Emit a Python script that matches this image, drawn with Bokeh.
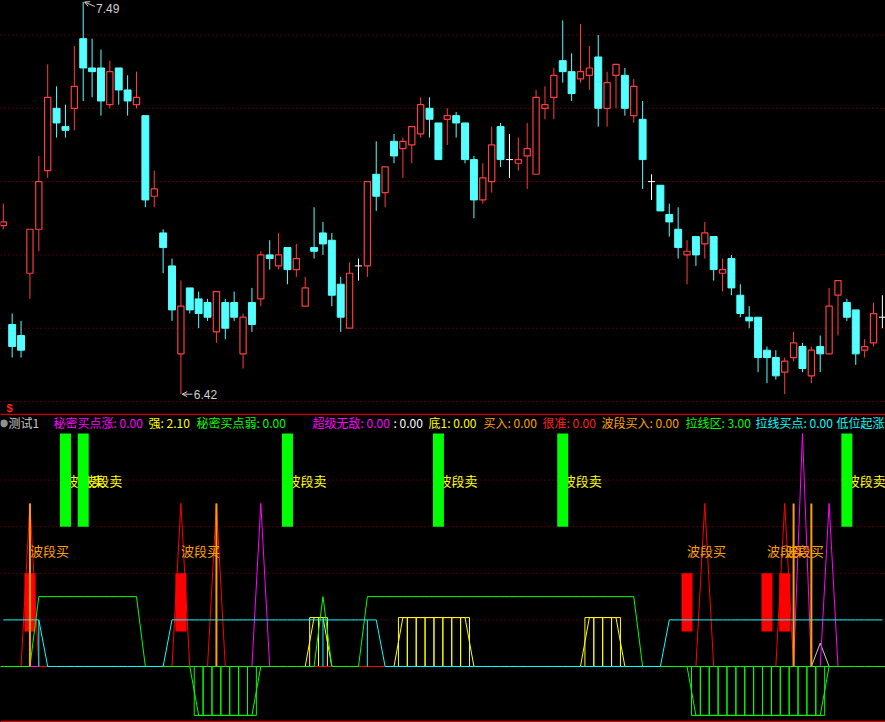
import numpy as np
from bokeh.plotting import figure
from bokeh.layouts import column
from bokeh.models import (Range1d, Span, Label, Arrow, OpenHead, ColumnDataSource,
                          GlobalInlineStyleSheet)
from bokeh.core.properties import value
from bokeh.embed import file_html
from bokeh.resources import INLINE

# ---------------- price data (100 daily bars) ----------------
opens = [6.88, 6.61, 6.58, 6.75, 6.87, 7.03, 7.20, 7.15, 7.20, 7.39,
         7.31, 7.31, 7.21, 7.31, 7.25, 7.21, 7.18, 6.96, 6.86, 6.77,
         6.53, 6.71, 6.68, 6.67, 6.59, 6.67, 6.67, 6.53, 6.67, 6.68,
         6.80, 6.77, 6.82, 6.76, 6.66, 6.82, 6.86, 6.84, 6.72, 6.60,
         6.77, 6.77, 7.02, 6.97, 7.11, 7.09, 7.10, 7.13, 7.20, 7.16,
         7.17, 7.18, 7.16, 7.06, 6.95, 7.00, 7.15, 7.06, 7.05, 7.07,
         7.02, 7.20, 7.23, 7.33, 7.30, 7.28, 7.29, 7.34, 7.20, 7.29,
         7.29, 7.18, 7.17, 7.00, 6.99, 6.91, 6.87, 6.80, 6.85, 6.83,
         6.85, 6.75, 6.79, 6.69, 6.63, 6.63, 6.54, 6.52, 6.48, 6.52,
         6.55, 6.47, 6.55, 6.53, 6.69, 6.67, 6.65, 6.54, 6.56, 6.63]
highs = [6.94, 6.64, 6.62, 6.87, 7.07, 7.32, 7.26, 7.21, 7.37, 7.49,
         7.39, 7.36, 7.33, 7.31, 7.29, 7.30, 7.18, 7.03, 6.87, 6.79,
         6.73, 6.71, 6.70, 6.68, 6.70, 6.68, 6.70, 6.64, 6.71, 6.81,
         6.84, 6.86, 6.82, 6.83, 6.74, 6.93, 6.89, 6.86, 6.74, 6.78,
         6.79, 7.00, 7.11, 7.04, 7.13, 7.12, 7.15, 7.23, 7.23, 7.16,
         7.20, 7.19, 7.16, 7.07, 7.05, 7.15, 7.16, 7.13, 7.12, 7.16,
         7.25, 7.26, 7.31, 7.44, 7.35, 7.43, 7.37, 7.40, 7.30, 7.32,
         7.31, 7.28, 7.22, 7.02, 6.99, 6.94, 6.93, 6.84, 6.85, 6.89,
         6.85, 6.79, 6.80, 6.72, 6.66, 6.63, 6.55, 6.54, 6.52, 6.59,
         6.56, 6.55, 6.58, 6.71, 6.73, 6.68, 6.65, 6.57, 6.67, 6.69]
lows = [6.87, 6.52, 6.52, 6.68, 6.81, 7.01, 7.12, 7.12, 7.14, 7.22,
        7.23, 7.18, 7.20, 7.21, 7.18, 7.20, 6.93, 6.93, 6.75, 6.62,
        6.42, 6.64, 6.60, 6.62, 6.56, 6.57, 6.62, 6.49, 6.59, 6.66,
        6.76, 6.76, 6.72, 6.74, 6.66, 6.79, 6.80, 6.66, 6.59, 6.60,
        6.73, 6.74, 6.92, 6.93, 7.05, 7.01, 7.05, 7.12, 7.12, 7.06,
        7.10, 7.12, 7.05, 6.90, 6.94, 6.97, 7.04, 7.01, 7.03, 6.98,
        7.02, 7.17, 7.17, 7.27, 7.22, 7.27, 7.25, 7.15, 7.15, 7.20,
        7.18, 7.16, 6.98, 6.95, 6.92, 6.85, 6.79, 6.72, 6.77, 6.79,
        6.73, 6.70, 6.69, 6.63, 6.60, 6.48, 6.45, 6.46, 6.42, 6.51,
        6.48, 6.45, 6.48, 6.53, 6.58, 6.62, 6.50, 6.52, 6.55, 6.60]
closes = [6.89, 6.55, 6.54, 6.87, 7.00, 7.23, 7.16, 7.14, 7.26, 7.31,
          7.30, 7.22, 7.30, 7.25, 7.22, 7.23, 6.95, 6.98, 6.82, 6.65,
          6.66, 6.65, 6.64, 6.63, 6.70, 6.60, 6.63, 6.63, 6.61, 6.80,
          6.79, 6.80, 6.76, 6.79, 6.71, 6.81, 6.83, 6.69, 6.63, 6.75,
          6.77, 7.00, 6.96, 7.04, 7.07, 7.11, 7.15, 7.21, 7.17, 7.06,
          7.18, 7.16, 7.06, 6.95, 7.01, 7.10, 7.06, 7.06, 7.06, 7.09,
          7.23, 7.21, 7.29, 7.30, 7.24, 7.30, 7.31, 7.20, 7.27, 7.32,
          7.20, 7.26, 7.06, 7.00, 6.92, 6.89, 6.82, 6.81, 6.80, 6.86,
          6.76, 6.76, 6.71, 6.64, 6.62, 6.52, 6.52, 6.47, 6.51, 6.56,
          6.49, 6.54, 6.53, 6.66, 6.73, 6.63, 6.53, 6.55, 6.64, 6.63]
price_grid = [6.4, 6.6, 6.8, 7.0, 7.2, 7.4]

# ---------------- indicator data ----------------
qiang_idx = [35, 36, 45, 46, 47, 48, 49, 50, 51, 52, 66, 67, 68, 69]      # 强 (yellow)
qiang_level = 2.1
ruo_idx = [22, 23, 24, 25, 26, 27, 28,
           78, 79, 80, 81, 82, 83, 84, 85, 86, 87, 88, 89, 90, 91, 92]     # 秘密买点弱 (green, below 0)
ruo_level = -2.1
laxian_idx = [4, 5, 6, 7, 8, 9, 10, 11, 12, 13, 14, 15, 36] + list(range(41, 72))  # 拉线区 (green)
laxian_level = 3.0
laxian_buy_idx = [0, 1, 2, 3, 4] + list(range(19, 43)) + list(range(75, 100))    # 拉线买点 (cyan)
laxian_buy_level = 2.0
henzhun_idx = [3, 20, 24, 79, 88]          # 很准 (red spikes)
henzhun_level = 7.0
chaoji_idx = [29, 90, 93]                  # 超级无敌 (magenta spikes)
chaoji_vals = [7.0, 10.0, 7.0]
di1_idx = [92]                             # small grey spike
di1_vals = [1.0]
buy_stick_idx = [3, 24, 89, 91]            # 买入 (orange sticks)
buy_stick_top = 7.0
low_stick_idx = [4, 36, 41]                # 低位起涨 (cyan sticks)
low_stick_top = 2.0
wave_buy_idx = [3, 20, 77, 86, 88]         # 波段买
wave_buy_range = (1.5, 4.0)
wave_buy_text_y = 5.0
wave_sell_idx = [7, 9, 32, 49, 63, 95]     # 波段卖
wave_sell_range = (6.0, 10.0)
wave_sell_text_y = 8.0
ind_grid = [2, 4, 6, 8]

legend_items = [
    (8, "测试1", "#C8C8C8"),
    (53, "秘密买点涨: 0.00", "#FF00FF"),
    (148, "强: 2.10", "#FFFF00"),
    (196, "秘密买点弱: 0.00", "#00FF00"),
    (312, "超级无敌: 0.00", "#FF00FF"),
    (393, ": 0.00", "#FFFFFF"),
    (428, "底1: 0.00", "#FFFF00"),
    (483, "买入: 0.00", "#FFA000"),
    (542, "很准: 0.00", "#FF2020"),
    (601, "波段买入: 0.00", "#FFA000"),
    (685, "拉线区: 3.00", "#00FF00"),
    (755, "拉线买点: 0.00", "#00FFFF"),
    (836, "低位起涨", "#00FFFF"),
]

# ---------------- colours ----------------
RED = "#FF3C3C"
CYAN = "#54FFFF"
GRID = "#A00000"
CJK = "Noto Sans CJK SC"

N = len(opens)
idx = np.arange(N)
o = np.array(opens); h = np.array(highs); l = np.array(lows); c = np.array(closes)

xr = Range1d(-0.315, 99.35)

# ================= top: candlesticks =================
top = figure(width=885, height=415, x_range=xr, y_range=Range1d(6.3673, 7.4941),
             output_backend="svg", toolbar_location=None, title=None,
             x_axis_location=None, y_axis_location=None, min_border=0,
             min_border_left=0, min_border_right=0, min_border_top=0, min_border_bottom=2)
top.background_fill_color = "black"
top.border_fill_color = "#D00000"
top.outline_line_color = None
top.grid.visible = False

for g in price_grid:
    top.add_layout(Span(location=g, dimension="width", line_color=GRID,
                        line_dash="1 3", line_width=1, level="underlay"))

up = c > o
dn = c < o
dj = c == o
body_top = np.maximum(o, c)
body_bot = np.minimum(o, c)
col = np.where(up, RED, np.where(dn, CYAN, "#FFFFFF"))

wick = ColumnDataSource(dict(x=idx, h=h, l=l, bt=body_top, bb=body_bot, col=col))
top.segment(x0="x", y0="h", x1="x", y1="bt", color="col", line_width=1, source=wick)
top.segment(x0="x", y0="bb", x1="x", y1="l", color="col", line_width=1, source=wick)

top.vbar(x=idx[dn], top=o[dn], bottom=c[dn], width=0.78,
         fill_color=CYAN, line_color=CYAN, line_width=1)
top.vbar(x=idx[up], top=c[up], bottom=o[up], width=0.7,
         fill_color="black", line_color=RED, line_width=1.2)
top.segment(x0=idx[dj] - 0.4, y0=c[dj], x1=idx[dj] + 0.4, y1=c[dj],
            color="#FFFFFF", line_width=1)

imax = int(np.argmax(h)); imin = int(np.argmin(l))
top.add_layout(Arrow(x_start=imax + 1.3, y_start=h[imax] - 0.012, x_end=imax + 0.15, y_end=h[imax],
                     line_color="#D0D0D0", line_width=1,
                     end=OpenHead(size=5, line_color="#D0D0D0", line_width=1)))
top.add_layout(Label(x=imax + 1.45, y=h[imax], text=f"{h[imax]:.2f}", y_offset=-6,
                     text_color="#D0D0D0", text_font="Liberation Sans", text_font_size="12px",
                     text_baseline="middle"))
top.add_layout(Arrow(x_start=imin + 1.3, y_start=l[imin], x_end=imin + 0.15, y_end=l[imin],
                     line_color="#D0D0D0", line_width=1,
                     end=OpenHead(size=5, line_color="#D0D0D0", line_width=1)))
top.add_layout(Label(x=imin + 1.45, y=l[imin], text=f"{l[imin]:.2f}",
                     text_color="#D0D0D0", text_font="Liberation Sans", text_font_size="12px",
                     text_baseline="middle"))
top.add_layout(Label(x=6, x_units="screen", y=6.381, text="$", text_color="#FF2020",
                     text_font="Liberation Sans", text_font_style="bold",
                     text_font_size="11px", text_baseline="middle"))

# ================= bottom: indicator =================
bot = figure(width=885, height=307, x_range=xr, y_range=Range1d(-2.318, 10.773),
             output_backend="svg", toolbar_location=None, title=None,
             x_axis_location=None, y_axis_location=None, min_border=0,
             min_border_left=0, min_border_right=0, min_border_top=0, min_border_bottom=2)
bot.background_fill_color = "black"
bot.border_fill_color = "#D00000"
bot.outline_line_color = None
bot.grid.visible = False

for g in ind_grid:
    bot.add_layout(Span(location=g, dimension="width", line_color=GRID,
                        line_dash="1 3", line_width=1, level="underlay"))
bot.add_layout(Span(location=0, dimension="width", line_color="#00FF00",
                    line_width=1, level="underlay"))


def series(ids, vals):
    arr = np.zeros(N)
    arr[np.array(ids)] = vals
    return arr


qiang = series(qiang_idx, qiang_level)
ruo = series(ruo_idx, ruo_level)
laxian = series(laxian_idx, laxian_level)
laxian_buy = series(laxian_buy_idx, laxian_buy_level)
henzhun = series(henzhun_idx, henzhun_level)
chaoji = series(chaoji_idx, chaoji_vals)
di1 = series(di1_idx, di1_vals)

# buy blocks (red)
bot.vbar(x=wave_buy_idx, bottom=wave_buy_range[0], top=wave_buy_range[1], width=1.24,
         fill_color="#FF0000", line_color=None)

# yellow hatched blocks
bot.vbar(x=qiang_idx, bottom=0, top=qiang_level, width=1.0, fill_color=None,
         line_color="#FFFF00", line_width=1)
bot.line(idx, qiang, line_color="#FFFF00", line_width=1)

# green hatched blocks below zero
bot.vbar(x=ruo_idx, bottom=ruo_level, top=0, width=1.0, fill_color=None,
         line_color="#00FF00", line_width=1)
bot.line(idx, ruo, line_color="#00FF00", line_width=1)

bot.line(idx, di1, line_color="#C8C8C8", line_width=1)
bot.line(idx, chaoji, line_color="#FF00FF", line_width=1)
bot.line(idx, henzhun, line_color="#FF0000", line_width=1)
bot.line(idx, laxian, line_color="#00FF00", line_width=1)
bot.line(idx, laxian_buy, line_color="#00FFFF", line_width=1)
bot.segment(x0=low_stick_idx, y0=0, x1=low_stick_idx, y1=low_stick_top,
            line_color="#00FFFF", line_width=1)
bot.segment(x0=buy_stick_idx, y0=0, x1=buy_stick_idx, y1=buy_stick_top,
            line_color="#FFA000", line_width=2)

bot.text(x=wave_buy_idx, y=[wave_buy_text_y] * len(wave_buy_idx),
         text=["波段买"] * len(wave_buy_idx), text_color="#FFA000",
         text_font=value(CJK), text_font_size=value("13px"),
         text_align="left", text_baseline="middle")
bot.text(x=wave_sell_idx, y=[wave_sell_text_y] * len(wave_sell_idx),
         text=["波段卖"] * len(wave_sell_idx), text_color="#FFFF00",
         text_font=value(CJK), text_font_size=value("13px"),
         text_align="left", text_baseline="middle")

# sell blocks (green)
bot.vbar(x=wave_sell_idx, bottom=wave_sell_range[0], top=wave_sell_range[1], width=1.24,
         fill_color="#00FF00", line_color=None)

# title / legend row
bot.add_layout(Label(x=-1, x_units="screen", y=10.49, text="●", text_color="#909090",
                     text_font="DejaVu Sans", text_font_size="10px", text_baseline="middle"))
for px, txt, colr in legend_items:
    bot.add_layout(Label(x=px, x_units="screen", y=10.49, text=txt, text_color=colr,
                         text_font=CJK, text_font_size="12px", text_baseline="middle"))

css = GlobalInlineStyleSheet(css="html, body { margin: 0 !important; padding: 0; background: #000; overflow: hidden; }")
layout = column(top, bot, spacing=0, stylesheets=[css])

open("out.html", "w").write(file_html(layout, INLINE))
